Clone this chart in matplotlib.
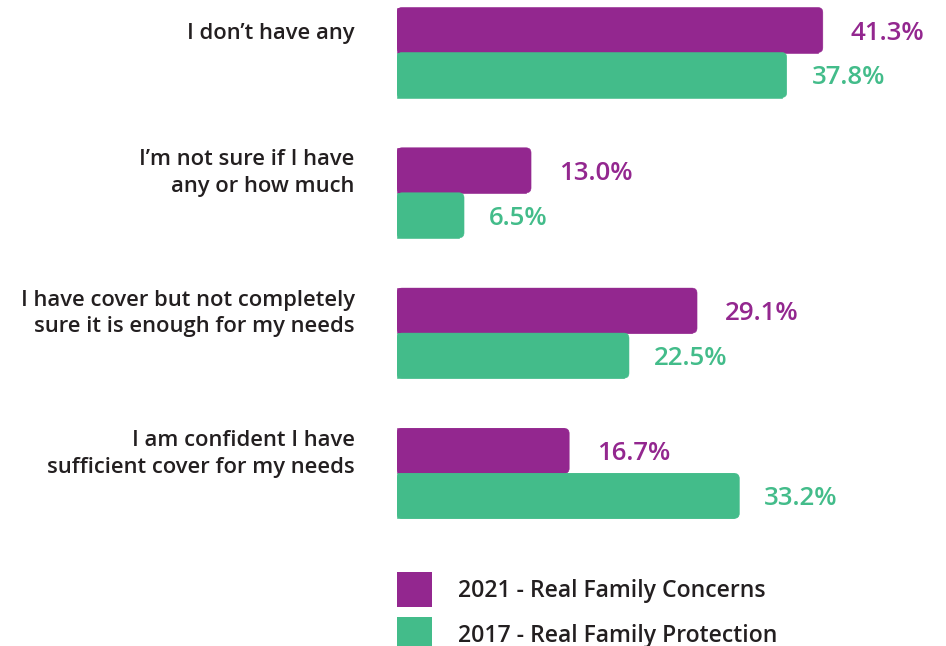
import numpy as np
import matplotlib
matplotlib.use("Agg")
import matplotlib.pyplot as plt
from matplotlib.patches import FancyBboxPatch, Rectangle

categories = [
    "I don\u2019t have any",
    "I\u2019m not sure if I have\nany or how much",
    "I have cover but not completely\nsure it is enough for my needs",
    "I am confident I have\nsufficient cover for my needs",
]
vals_2021 = [41.3, 13.0, 29.1, 16.7]
vals_2017 = [37.8, 6.5, 22.5, 33.2]
series_names = ["2021 - Real Family Concerns", "2017 - Real Family Protection"]

PURPLE = "#93278F"
GREEN = "#43BC8A"
TEXT = "#231F20"
plt.rcParams["font.family"] = ["Open Sans", "DejaVu Sans"]

W, H = 946, 646
fig = plt.figure(figsize=(W / 100, H / 100), dpi=100)
# axes: x from pixel 397, 10.31 px per percent; full height
ax = fig.add_axes([397 / W, 0, 50 * 10.31 / W, 1])
ax.set_xlim(0, 50)
gap_px = 140.3
ax.set_ylim((H - 52.5) / gap_px, -52.5 / gap_px)
ax.axis("off")

bar_h = 45 / gap_px
r = 5 / 10.31
asp = (1 / gap_px) / (1 / 10.31)
nudge = 3 / gap_px  # text sits a few px lower than the geometric centre


def rounded_bar(y0, v, color):
    kw = dict(fc=color, ec=color, lw=0.4)
    ax.add_patch(FancyBboxPatch((0, y0), v, bar_h,
                                boxstyle=f"round,pad=0,rounding_size={r}",
                                mutation_aspect=asp, **kw))
    ax.add_patch(Rectangle((0, y0), v - r, bar_h, **kw))


ys = np.arange(len(categories))
for y, cat, a, b in zip(ys, categories, vals_2021, vals_2017):
    rounded_bar(y - bar_h, a, PURPLE)
    rounded_bar(y, b, GREEN)
    ax.text(a + 2.7, y - bar_h / 2 + nudge, f"{a:.1f}%", color=PURPLE,
            fontsize=18.6, fontweight="semibold", ha="left", va="center")
    ax.text(b + 2.4, y + bar_h / 2 + nudge, f"{b:.1f}%", color=GREEN,
            fontsize=18.6, fontweight="semibold", ha="left", va="center")
    ax.text(-4.1, y - bar_h / 2 + nudge, cat, color=TEXT, fontsize=15.8,
            fontweight="semibold", ha="right", va="center",
            linespacing=1.36, clip_on=False)

# legend drawn in the same axes, below the last group
leg_y0 = len(categories) - 1 + 0.824
sq_w = 35 / 10.31
sq_h = 35 / gap_px
for k, (name, color) in enumerate(zip(series_names, [PURPLE, GREEN])):
    yc = leg_y0 + k * bar_h
    ax.add_patch(Rectangle((0, yc - sq_h / 2), sq_w, sq_h, fc=color,
                           ec="none", clip_on=False))
    ax.text(5.92, yc + nudge / 2, name, color=TEXT, fontsize=16.6,
            fontweight="semibold", ha="left", va="center")

fig.savefig("out.png", dpi=100)
